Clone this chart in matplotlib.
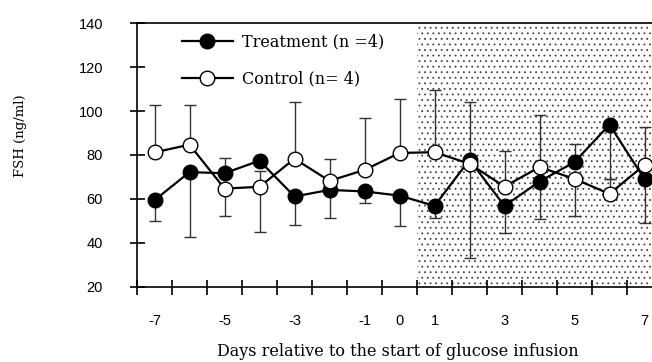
import numpy as np
import matplotlib
matplotlib.use('Agg')
import matplotlib.pyplot as plt

# Datos
dias = [-7, -6, -5, -4, -3, -2, -1, 0, 1, 2, 3, 4, 5, 6, 7]
tratamiento = [59.4, 72.2, 71.7, 77.4, 61.1, 64.1, 63.4, 61.5, 56.8, 77.8, 56.8, 67.9, 76.8, 93.8, 69.0]
control = [81.2, 84.7, 64.7, 65.5, 78.3, 68.2, 73.2, 80.9, 81.3, 76.0, 65.6, 74.5, 69.1, 62.3, 75.5]

# Barras de error (solo se ve un lado en cada punto)
tratInf = [9.3, 29.7, 0, 0, 12.9, 12.6, 5.3, 13.8, 5.6, 0, 12.4, 17.0, 0, 24.8, 20.1]
tratSup = [0, 0, 6.9, 0, 0, 0, 0, 0, 0, 26.3, 0, 0, 8.3, 0, 0]
ctrlInf = [0, 0, 12.4, 20.4, 0, 0, 0, 0, 0, 43.0, 0, 0, 16.8, 0, 0]
ctrlSup = [21.7, 17.9, 0, 7.0, 25.7, 10.1, 23.6, 24.6, 28.5, 0, 16.3, 23.9, 0, 6.7, 17.1]

etiquetasX = [-7, -5, -3, -1, 0, 1, 3, 5, 7]
ticksY = [20, 40, 60, 80, 100, 120, 140]

serif = 'DejaVu Serif'
sans = 'Liberation Sans'

plt.rcParams['hatch.linewidth'] = 0.6

fig = plt.figure(figsize=(6.52, 3.62), dpi=100)
ax = fig.add_axes([137/652, 75.3/362, 515/652, 263.4/362])

# Zona punteada (infusion de glucosa)
ax.axvspan(0.5, 7.5, facecolor='white', edgecolor='#444444', hatch='...', lw=0, zorder=0)

# Errores
ax.errorbar(dias, tratamiento, yerr=[tratInf, tratSup], fmt='none', ecolor='#333333',
            elinewidth=1, capsize=4.6, capthick=1, zorder=2)
ax.errorbar(dias, control, yerr=[ctrlInf, ctrlSup], fmt='none', ecolor='#333333',
            elinewidth=1, capsize=4.6, capthick=1, zorder=2)

# Series
ax.plot(dias, tratamiento, '-o', color='black', lw=1.6, ms=10.5, mfc='black', mec='black',
        mew=1, label='Treatment (n =4)', zorder=3)
ax.plot(dias, control, '-o', color='black', lw=1.6, ms=10.5, mfc='white', mec='black',
        mew=1, label='Control (n= 4)', zorder=4)

ax.set_xlim(-7.5, -7.5 + 515/35)
ax.set_ylim(20, 140)

ax.spines['right'].set_visible(False)
for s in ['left', 'bottom', 'top']:
    ax.spines[s].set_linewidth(1.2)

# Ticks del eje x: marcas entre dias, etiquetas en el centro
ax.set_xticks(np.arange(-7.5, 7, 1))
ax.set_xticklabels([])
ax.set_xticks(etiquetasX, minor=True)
ax.set_xticklabels([str(d) for d in etiquetasX], minor=True, fontsize=10.5, family=sans)
ax.tick_params(axis='x', which='major', direction='inout', length=10.8, width=1.2)
ax.tick_params(axis='x', which='minor', length=0, pad=20)

ax.set_yticks(ticksY)
ax.set_yticklabels([str(v) for v in ticksY], fontsize=10.5, family=sans)
ax.tick_params(axis='y', direction='inout', length=10.8, width=1.2, pad=19)

ax.set_xlabel('Days relative to the start of glucose infusion', fontsize=11.5, family=serif)
ax.xaxis.set_label_coords(0.507, -0.215)
ax.set_ylabel('FSH (ng/ml)', fontsize=9.5, family=serif, va='center')
ax.yaxis.set_label_coords(-0.226, 0.572)

ax.legend(loc='upper left', bbox_to_anchor=(0.087, 0.96), frameon=False,
          prop={'family': serif, 'size': 11.5}, handlelength=3.2, handletextpad=0.55,
          labelspacing=1.25, borderpad=0, borderaxespad=0)

fig.savefig('out.png', dpi=100)
